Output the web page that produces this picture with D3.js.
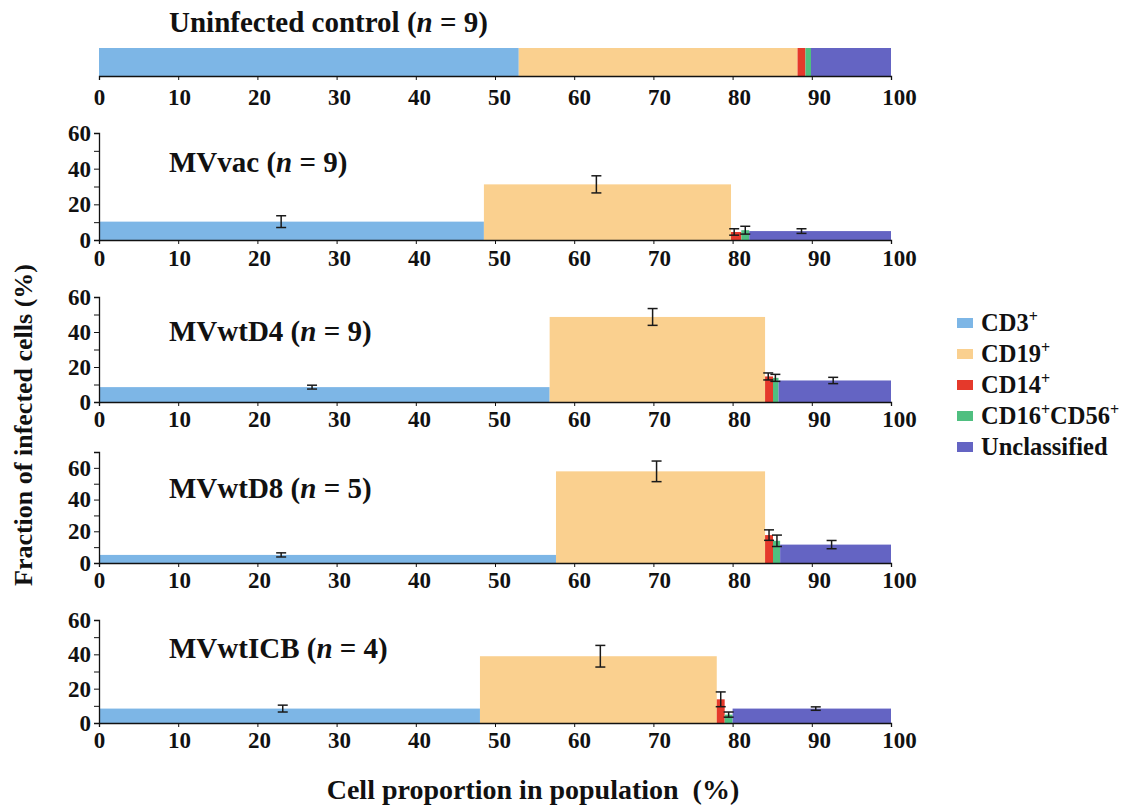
<!DOCTYPE html>
<html>
<head>
<meta charset="utf-8">
<script src="https://cdn.jsdelivr.net/npm/d3@7"></script>
<style>
  html, body { margin: 0; padding: 0; background: #fff; }
  #chart { width: 1125px; height: 806px; }
  svg text { font-family: "Liberation Serif", "DejaVu Serif", "Times New Roman", serif; font-weight: bold; fill: #111; }
</style>
</head>
<body>
<div id="chart"></div>
<script>
// Infected cell fractions across PBMC subsets, one panel per virus group

const groups = ["Uninfected control", "MVvac", "MVwtD4", "MVwtD8", "MVwtICB"];
const groupN = [9, 9, 9, 5, 4];
const cellTypes = ["CD3+", "CD19+", "CD14+", "CD16+CD56+", "Unclassified"];

// share of each cell type in the population (%), widths of the bars
const proportions = [
  [53.0, 35.2, 1.0, 0.7, 10.1],
  [48.6, 31.2, 1.3, 1.0, 17.9],
  [56.9, 27.2, 1.0, 0.7, 14.2],
  [57.7, 26.4, 1.0, 0.9, 14.0],
  [48.1, 29.9, 1.0, 1.0, 20.0]
];

// fraction of infected cells (%), heights of the bars (control has none)
const infected = [
  null,
  [10.3, 31.2, 4.5, 5.5, 5.0],
  [8.5, 48.6, 14.6, 13.8, 12.3],
  [5.1, 57.8, 17.6, 14.0, 11.6],
  [8.4, 38.9, 13.8, 4.9, 8.4]
];
const infectedErr = [
  null,
  [3.3, 4.8, 1.8, 2.2, 1.3],
  [1.1, 4.8, 2.0, 2.0, 1.8],
  [1.3, 6.5, 3.3, 3.6, 2.6],
  [2.0, 6.3, 4.3, 1.5, 1.0]
];
// where the error bars sit on the proportion axis (%)
const errAt = [
  null,
  [23.0, 62.8, 80.2, 81.6, 88.7],
  [26.9, 69.9, 84.5, 85.4, 92.7],
  [23.0, 70.4, 84.6, 85.6, 92.5],
  [23.2, 63.3, 78.5, 79.5, 90.5]
];
const yMaxByGroup = [null, 60, 60, 70, 60];

const xTicks = [0, 10, 20, 30, 40, 50, 60, 70, 80, 90, 100];
const yTicks = [0, 10, 20, 30, 40, 50, 60, 70];
const yLabelTicks = [0, 20, 40, 60];

const colors = ["#7db6e6", "#fad08f", "#e5392b", "#4fbf80", "#6464c3"];

const width = 1125, height = 806;
const serif = "'Liberation Serif', 'DejaVu Serif', serif";

// panel geometry: baseline of the bars and pixel top of the y domain
const panelBox = [
  { base: 76, top: 48, pad: 9 },
  { base: 240, top: 133, pad: 6 },
  { base: 402, top: 297, pad: 5 },
  { base: 563, top: 452, pad: 5 },
  { base: 723, top: 620, pad: 5 }
];
const titleY = [32, 172, 341, 498, 658];

const svg = d3.select("#chart").append("svg")
  .attr("width", width)
  .attr("height", height);

const x = d3.scaleLinear().domain([0, 100]).range([99, 891]);
const color = d3.scaleOrdinal().domain(cellTypes).range(colors);

function addTitle(g, name, n, yPos) {
  const t = g.append("text")
    .attr("x", 169)
    .attr("y", yPos)
    .style("font-family", serif)
    .style("font-size", "29px");
  t.append("tspan").text(name + " (");
  t.append("tspan").style("font-style", "italic").text("n");
  t.append("tspan").text(" = " + n + ")");
}

groups.forEach((name, gi) => {
  const box = panelBox[gi];
  const g = svg.append("g").attr("class", "panel");

  // cumulative starts of each segment
  const starts = [];
  proportions[gi].reduce((acc, v) => { starts.push(acc); return acc + v; }, 0);

  const segs = cellTypes.map((c, i) => ({
    type: c,
    x0: starts[i],
    x1: starts[i] + proportions[gi][i],
    v: infected[gi] ? infected[gi][i] : null,
    e: infectedErr[gi] ? infectedErr[gi][i] : null,
    at: errAt[gi] ? errAt[gi][i] : null
  }));

  let y = null;
  if (infected[gi]) {
    y = d3.scaleLinear().domain([0, yMaxByGroup[gi]]).range([box.base, box.top]);
  }

  g.selectAll("rect.seg")
    .data(segs)
    .enter()
    .append("rect")
    .attr("class", "seg")
    .attr("x", d => x(d.x0))
    .attr("width", d => Math.max(0, x(d.x1) - x(d.x0)))
    .attr("y", d => y ? y(d.v) : box.top)
    .attr("height", d => y ? box.base - y(d.v) : box.base - box.top)
    .attr("fill", d => color(d.type));

  // error bars
  if (y) {
    const eb = g.selectAll("g.err")
      .data(segs)
      .enter()
      .append("g")
      .attr("class", "err")
      .attr("stroke", "#1a1a1a")
      .attr("stroke-width", 1.5);
    eb.append("line")
      .attr("x1", d => x(d.at)).attr("x2", d => x(d.at))
      .attr("y1", d => y(d.v - d.e)).attr("y2", d => y(d.v + d.e));
    eb.append("line")
      .attr("x1", d => x(d.at) - 5).attr("x2", d => x(d.at) + 5)
      .attr("y1", d => y(d.v + d.e)).attr("y2", d => y(d.v + d.e));
    eb.append("line")
      .attr("x1", d => x(d.at) - 5).attr("x2", d => x(d.at) + 5)
      .attr("y1", d => y(d.v - d.e)).attr("y2", d => y(d.v - d.e));
  }

  // x axis
  const xAxis = g.append("g")
    .attr("transform", `translate(0,${box.base})`)
    .call(d3.axisBottom(x).tickValues(xTicks).tickSizeOuter(0).tickSize(4).tickPadding(box.pad));
  xAxis.attr("font-family", null);
  xAxis.select(".domain").attr("stroke", "#111").attr("stroke-width", 1.3);
  xAxis.selectAll(".tick line").attr("stroke", "#111");
  xAxis.selectAll("text")
    .attr("dx", d => d * 0.08)
    .style("font-size", "23px")
    .style("font-family", serif)
    .style("font-weight", "bold")
    .attr("fill", "#111");

  // y axis
  if (y) {
    const yAxis = g.append("g")
      .attr("transform", `translate(${x(0)},0)`)
      .call(d3.axisLeft(y)
        .tickValues(yTicks.filter(t => t <= yMaxByGroup[gi]))
        .tickSizeOuter(0)
        .tickSize(5)
        .tickPadding(3)
        .tickFormat(d => yLabelTicks.includes(d) ? d : ""));
    yAxis.attr("font-family", null);
    yAxis.select(".domain").attr("stroke", "#111").attr("stroke-width", 1.3);
    yAxis.selectAll(".tick line").attr("stroke", "#111");
    yAxis.selectAll("text")
      .style("font-size", "23px")
      .style("font-family", serif)
      .style("font-weight", "bold")
      .attr("fill", "#111");
  }

  addTitle(g, name, groupN[gi], titleY[gi]);
});

// axis titles
svg.append("text")
  .attr("transform", "translate(32,425) rotate(-90)")
  .attr("text-anchor", "middle")
  .style("font-family", serif)
  .style("font-size", "26px")
  .text("Fraction of infected cells (%)");

svg.append("text")
  .attr("x", 533)
  .attr("y", 799)
  .attr("text-anchor", "middle")
  .style("font-family", serif)
  .style("font-size", "28px")
  .attr("xml:space", "preserve")
  .text("Cell proportion in population  (%)");

// legend
const legend = svg.append("g").attr("transform", "translate(957,323)");
const rows = legend.selectAll("g.row")
  .data(cellTypes)
  .enter()
  .append("g")
  .attr("class", "row")
  .attr("transform", (_, i) => `translate(0,${i * 31})`);

rows.append("rect")
  .attr("x", 0)
  .attr("y", -5)
  .attr("width", 16)
  .attr("height", 10)
  .attr("fill", d => color(d));

rows.each(function (d) {
  const t = d3.select(this).append("text")
    .attr("x", 24)
    .attr("y", 8)
    .style("font-family", serif)
    .style("font-size", "24.5px");
  if (d === "Unclassified") {
    t.text(d);
    return;
  }
  const parts = d.split("+");
  let lift = 0;
  parts.forEach((p, i) => {
    if (p) {
      t.append("tspan").attr("dy", -lift).text(p);
      lift = 0;
    }
    if (i < parts.length - 1) {
      t.append("tspan")
        .attr("dy", -9)
        .style("font-size", "16px")
        .text("+");
      lift = -9;
    }
  });
});
</script>
</body>
</html>
